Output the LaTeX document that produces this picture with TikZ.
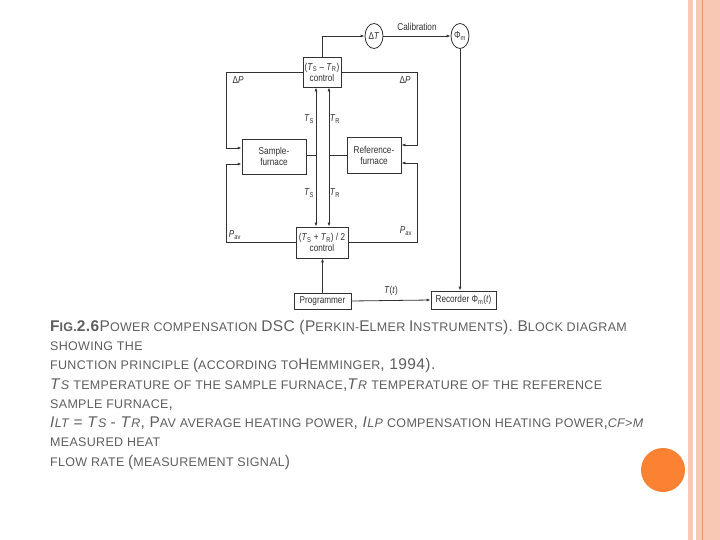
\documentclass[tikz,border=0pt]{standalone}
\usepackage{fontspec}
\setmainfont{Liberation Sans}
\usepackage{tikz}
\usetikzlibrary{positioning,arrows.meta}
\usetikzlibrary{shapes.geometric}

\definecolor{stripe}{RGB}{249,200,180}
\definecolor{stripedk}{RGB}{236,150,110}
\definecolor{dotorange}{RGB}{250,130,50}
\definecolor{captext}{RGB}{95,95,95}
\definecolor{ink}{RGB}{50,50,50}

\newcommand{\capbig}[1]{{\fontsize{15.5}{16}\selectfont #1}}
\newcommand{\diagfont}{\fontsize{10}{11}\selectfont\addfontfeature{FakeStretch=0.82}}
\newcommand{\symb}[2]{\textit{#1}\textsubscript{#2}}

\begin{document}
\begin{tikzpicture}[x=1pt,y=-1pt,
    blk/.style={draw=ink, line width=0.8pt, inner sep=1pt, align=center,
      font=\diagfont, text=ink},
    circ/.style={draw=ink, line width=0.8pt, ellipse, minimum width=18pt,
      minimum height=25pt, inner sep=0pt, font=\diagfont, text=ink},
    lbl/.style={font=\diagfont, text=ink, inner sep=0pt},
    conn/.style={draw=ink, line width=0.8pt, -{Latex[length=4pt,width=3pt]}},
    wire/.style={draw=ink, line width=0.8pt},
    captxt/.style={anchor=base west, inner sep=0pt, text=captext,
      font=\fontsize{12.5}{13}\selectfont\addfontfeature{LetterSpace=2.5}}]
  \useasboundingbox (0,0) rectangle (720,540);
  \fill[white] (0,0) rectangle (720,540);

  % slide border stripes and dot
  \fill[stripe] (688,0) rectangle (693,540);
  \fill[stripe] (696,0) rectangle (720,540);
  \fill[stripedk] (701.5,0) rectangle (703,540);
  \fill[dotorange] (663,470) circle (22);

  % blocks
  \node[blk, minimum width=38pt, minimum height=30pt] (ctrltop) at (322,72)
    {(\symb{T}{S} -- \symb{T}{R})\\control};
  \node[circ] (dT) at (374,36) {Δ\textit{T}};
  \node[circ] (phi) at (460,36) {Φ\textsubscript{m}};
  \node[blk, minimum width=64pt, minimum height=35pt] (sample) at (274,156.5)
    {Sample-\\furnace};
  \node[blk, minimum width=54pt, minimum height=36pt] (ref) at (374,155)
    {Reference-\\furnace};
  \node[blk, minimum width=52pt, minimum height=31pt] (ctrlbot) at (322,242.5)
    {(\symb{T}{S} + \symb{T}{R}) / 2\\control};
  \node[blk, minimum width=57pt, minimum height=16pt] (prog) at (322.5,301)
    {Programmer};
  \node[blk, minimum width=65pt, minimum height=18pt] (rec) at (463.5,300)
    {Recorder Φ\textsubscript{m}(\textit{t})};

  \coordinate (ts) at (316,155);
  \coordinate (tr) at (329,155);

  % connections
  \draw[conn] (ctrltop.north) |- (dT.west);
  \draw[conn] (dT.east) -- node[lbl, above=5pt] {Calibration} (phi.west);
  \draw[conn] (phi.south) -- (phi.south |- rec.north);
  \draw[conn] (ctrltop.west) -- (226,72) -- (226,148)
    -- ([yshift=8.5pt]sample.west);
  \draw[conn] (ctrlbot.west) -- (226,242.5) -- (226,164)
    -- ([yshift=-7.5pt]sample.west);
  \draw[conn] (ctrltop.east) -- (417,72) -- (417,145)
    -- ([yshift=10pt]ref.east);
  \draw[conn] (ctrlbot.east) -- (417,242.5) -- (417,163)
    -- ([yshift=-8pt]ref.east);
  \draw[wire] (sample.east |- ts) -- (ts);
  \draw[wire] (ref.west |- tr) -- (tr);
  \draw[conn] (ts) -- (ts |- ctrltop.south);
  \draw[conn] (ts) -- (ts |- ctrlbot.north);
  \draw[conn] (tr) -- (tr |- ctrltop.south);
  \draw[conn] (tr) -- (tr |- ctrlbot.north);
  \draw[conn] (prog.north) -- (prog.north |- ctrlbot.south);
  \draw[conn] (prog.east) -- node[lbl, above=5pt] {\textit{T}(\textit{t})} (rec.west);

  % signal labels
  \node[lbl] (dpl) at (238,80) {Δ\textit{P}};
  \node[lbl] (dpr) at (405,80) {Δ\textit{P}};
  \node[lbl] (pavl) at (235,235) {\symb{P}{av}};
  \node[lbl] (pavr) at (406,231) {\symb{P}{av}};
  \node[lbl] (ts1) at (309,119) {\symb{T}{S}};
  \node[lbl] (tr1) at (335,119) {\symb{T}{R}};
  \node[lbl] (ts2) at (309,193) {\symb{T}{S}};
  \node[lbl] (tr2) at (335,193) {\symb{T}{R}};

  % caption
  \node[captxt] (l1) at (50,331) {\textbf{\capbig{F}IG.\capbig{2.6}}\capbig{P}OWER
    COMPENSATION \capbig{DSC (P}ERKIN-\capbig{E}LMER \capbig{I}NSTRUMENTS\capbig{).
    B}LOCK DIAGRAM};
  \node[captxt] (l2) at (50,350) {SHOWING THE};
  \node[captxt] (l3) at (50,369) {FUNCTION PRINCIPLE \capbig{(}ACCORDING TO\capbig{H}EMMINGER\capbig{,
    1994).}};
  \node[captxt] (l4) at (50,389) {\capbig{\textit{T}}\textit{S} TEMPERATURE OF THE SAMPLE
    FURNACE\capbig{,}\capbig{\textit{T}}\textit{R} TEMPERATURE OF THE REFERENCE};
  \node[captxt] (l5) at (50,408) {SAMPLE FURNACE\capbig{,}};
  \node[captxt] (l6) at (50,427) {\capbig{\textit{I}}\textit{LT} \capbig{= \textit{T}}\textit{S}
    \capbig{- \textit{T}}\textit{R}\capbig{, P}AV AVERAGE HEATING POWER\capbig{,
    \textit{I}}\textit{LP} COMPENSATION HEATING POWER\capbig{,}\textit{CF>M}};
  \node[captxt] (l7) at (50,446) {MEASURED HEAT};
  \node[captxt] (l8) at (50,466) {FLOW RATE \capbig{(}MEASUREMENT SIGNAL\capbig{)}};
\end{tikzpicture}
\end{document}
